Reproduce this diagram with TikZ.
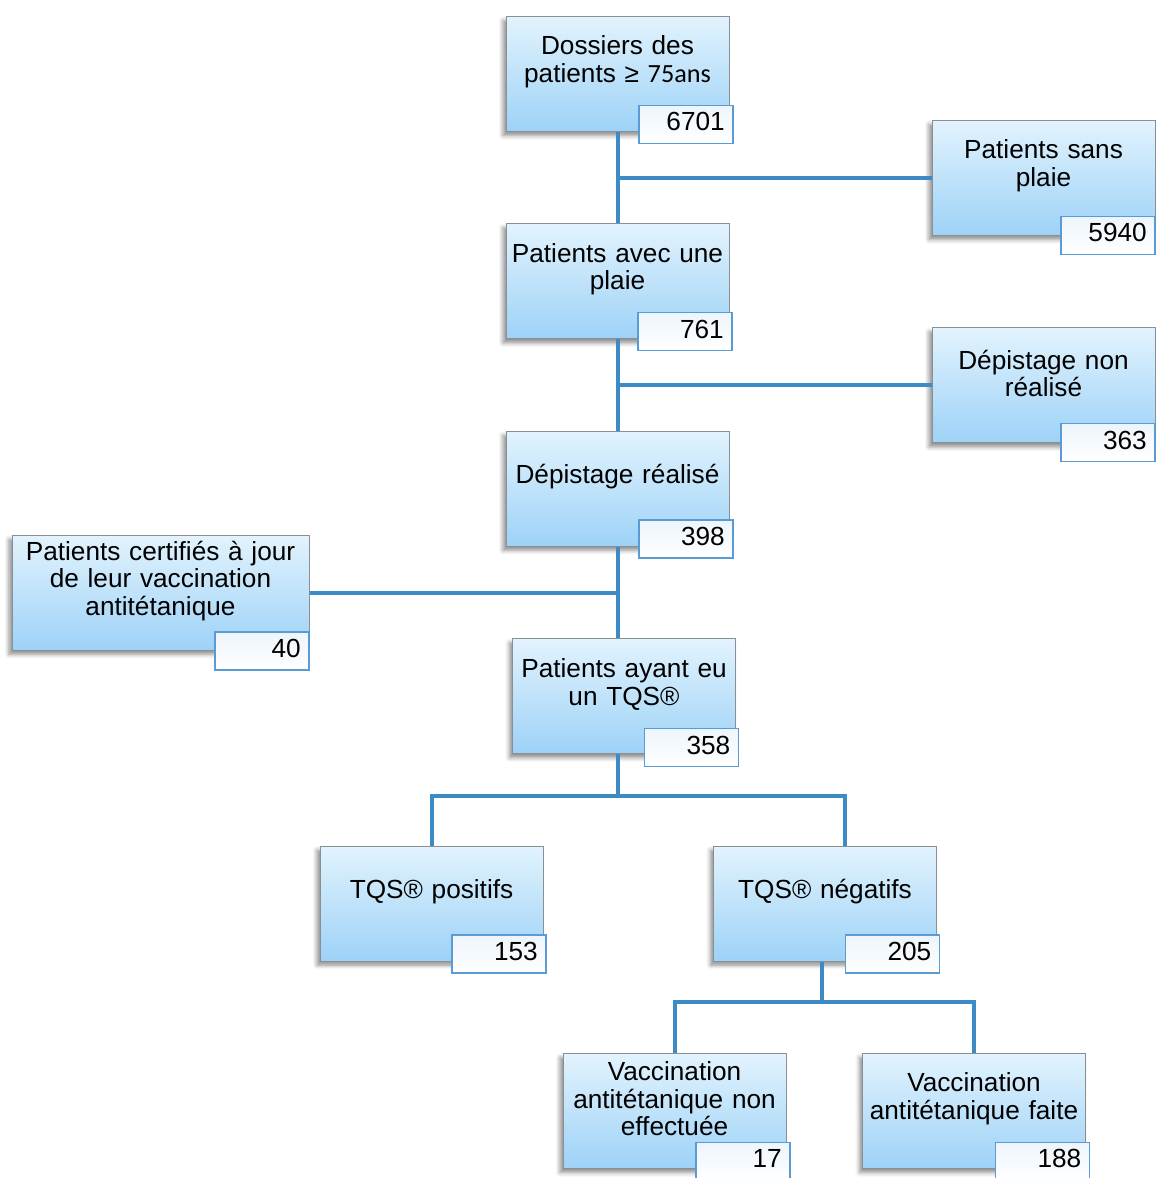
\documentclass[tikz,border=0pt]{standalone}
\usepackage{fontspec}
\setmainfont{Liberation Sans}
\newfontfamily\calibrilike{Carlito}
\usepackage{xcolor}
\definecolor{boxtop}{HTML}{E2F3FD}
\definecolor{boxbottom}{HTML}{9DD2F7}
\definecolor{boxbd}{HTML}{8A8F94}
\definecolor{numbd}{HTML}{5B9BD5}
\definecolor{numtop}{HTML}{EDF5FC}
\definecolor{linkblue}{HTML}{3D8BC4}
\newcommand\bottomgap{\par\vspace{12pt}}
\usetikzlibrary{positioning, calc, shadows.blur}

\begin{document}
\begin{tikzpicture}[
        x=0.5pt, y=-0.5pt,
        node distance=45.7pt and 100pt,
        step_node/.style={rectangle, draw=boxbd, line width=0.5pt, top color=boxtop, bottom color=boxbottom, minimum width=111.5pt, minimum height=57.5pt, text width=110pt, inner xsep=0.5pt, inner ysep=1pt, align=center, font=\fontsize{13.1}{13.8}\selectfont, execute at end node=\bottomgap, blur shadow={shadow xshift=-1.5pt, shadow yshift=-2pt, shadow blur steps=4, shadow opacity=45}},
        wide_node/.style={step_node, minimum width=148.5pt, text width=147pt},
        count_node/.style={rectangle, draw=numbd, line width=0.75pt, top color=numtop, bottom color=white, minimum width=47pt, minimum height=19pt, text width=39pt, text depth=2.5pt, inner xsep=4pt, inner ysep=0pt, align=right, anchor=south east, font=\fontsize{13.1}{13.8}\selectfont},
        link/.style={draw=linkblue, line width=2pt}
    ]
    \useasboundingbox (0,0) rectangle (1159,1178);

    % Main column
    \node[step_node] (dossiers) at (617.5,74) {Dossiers des\\patients ≥ {\calibrilike 75ans}};
    \node[step_node, below=of dossiers] (avec_plaie) {Patients avec une\\plaie};
    \node[step_node, below=of avec_plaie] (realise) {Dépistage réalisé};
    \node[step_node, below=of realise, xshift=3.25pt] (tqs) {Patients ayant eu\\un TQS®};

    % Junctions on the trunk
    \coordinate[below=23pt of dossiers] (j_plaie);
    \coordinate[below=23pt of avec_plaie] (j_depist);
    \coordinate[below=23pt of realise] (j_vacc);
    \coordinate (j_tqs) at ([yshift=-21pt]realise.south |- tqs.south);

    % Side branches
    \node[step_node, right=157pt of j_plaie] (sans_plaie) {Patients sans\\plaie};
    \node[step_node, right=157pt of j_depist] (non_realise) {Dépistage non\\réalisé};
    \node[wide_node, left=154pt of j_vacc] (certifies) {Patients certifiés à jour\\de leur vaccination\\antitétanique};

    % TQS results
    \node[step_node, below=of tqs, xshift=-96.25pt] (positifs) {TQS® positifs};
    \node[step_node, below=of tqs, xshift=100.5pt] (negatifs) {TQS® négatifs};
    \coordinate (j_neg) at ([xshift=-1.5pt, yshift=-20pt]negatifs.south);

    % Vaccination
    \node[step_node, below=of negatifs, xshift=-75.25pt] (vacc_non) {Vaccination\\antitétanique non\\effectuée};
    \node[step_node, below=of negatifs, xshift=74.5pt] (vacc_faite) {Vaccination\\antitétanique faite};

    % Counts
    \node[count_node] (n_dossiers) at ([xshift=2pt, yshift=-6pt]dossiers.south east) {6701};
    \node[count_node] (n_sans_plaie) at ([yshift=-9.5pt]sans_plaie.south east) {5940};
    \node[count_node] (n_avec_plaie) at ([xshift=1.5pt, yshift=-6pt]avec_plaie.south east) {761};
    \node[count_node] (n_non_realise) at ([yshift=-9.5pt]non_realise.south east) {363};
    \node[count_node] (n_realise) at ([xshift=2pt, yshift=-6pt]realise.south east) {398};
    \node[count_node] (n_certifies) at ([yshift=-10pt]certifies.south east) {40};
    \node[count_node] (n_tqs) at ([xshift=1.5pt, yshift=-6.5pt]tqs.south east) {358};
    \node[count_node] (n_positifs) at ([xshift=1.5pt, yshift=-6pt]positifs.south east) {153};
    \node[count_node] (n_negatifs) at ([xshift=1.5pt, yshift=-6pt]negatifs.south east) {205};
    \node[count_node] (n_vacc_non) at ([xshift=2pt, yshift=-6pt]vacc_non.south east) {17};
    \node[count_node] (n_vacc_faite) at ([xshift=2pt, yshift=-6pt]vacc_faite.south east) {188};

    % Connections
    \draw[link] (dossiers.south) -- (avec_plaie.north);
    \draw[link] (j_plaie) -- (sans_plaie.west);
    \draw[link] (avec_plaie.south) -- (realise.north);
    \draw[link] (j_depist) -- (non_realise.west);
    \draw[link] (realise.south) -- (realise.south |- tqs.north);
    \draw[link] (certifies.east) -- (j_vacc);
    \draw[link] (realise.south |- tqs.south) -- (j_tqs);
    \draw[link] (positifs.north) |- (j_tqs) -| ([xshift=10pt]negatifs.north);
    \draw[link] (j_neg |- negatifs.south) -- (j_neg);
    \draw[link] (vacc_non.north) |- (j_neg) -| (vacc_faite.north);

\end{tikzpicture}
\end{document}
